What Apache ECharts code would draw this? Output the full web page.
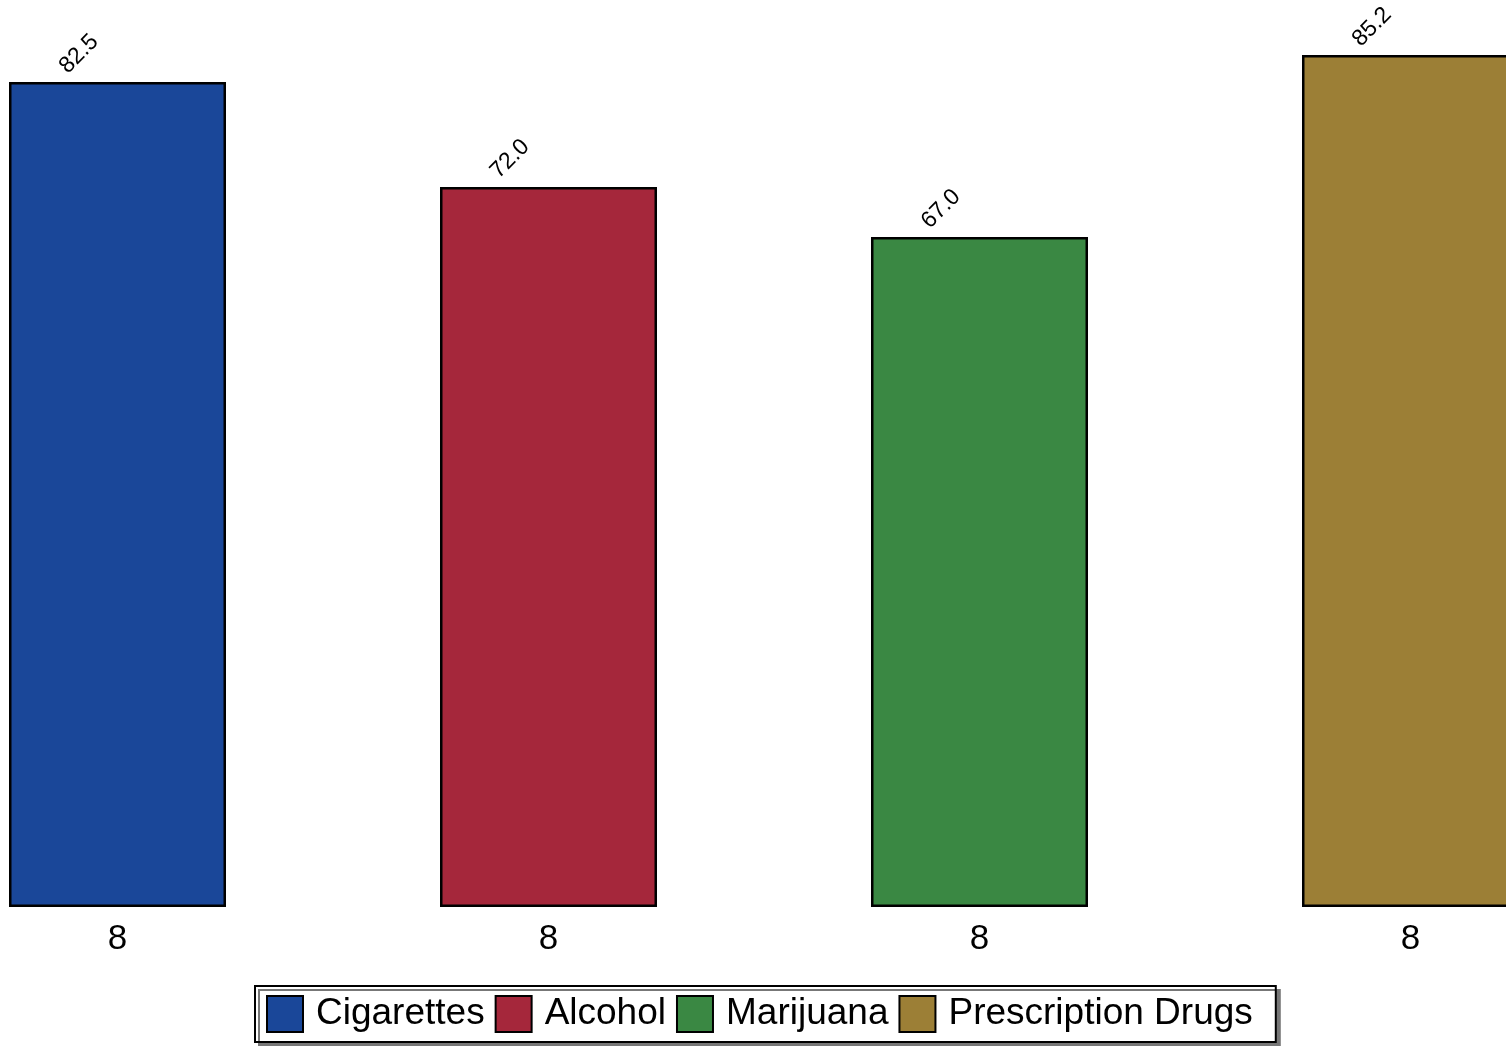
<!DOCTYPE html>
<html>
<head>
<meta charset="utf-8">
<script src="https://cdn.jsdelivr.net/npm/echarts@6/dist/echarts.min.js"></script>
<style>
html,body{margin:0;padding:0;background:#fff;overflow:hidden;width:1506px;height:1046px;}
#chart{width:1724px;height:1046px;margin-left:-98px;}
</style>
</head>
<body>
<div id="chart"></div>
<script>
const categories = ['8', '8', '8', '8'];
const seriesNames = ['Cigarettes', 'Alcohol', 'Marijuana', 'Prescription Drugs'];
const values = [82.5, 72.0, 67.0, 85.2];
const colors = ['#1a4799', '#a5273b', '#3a8843', '#9c7f36'];

const chart = echarts.init(document.getElementById('chart'), null, {renderer: 'canvas'});

const series = seriesNames.map((name, i) => ({
  name: name,
  type: 'bar',
  stack: 'all',
  barWidth: 217,
  data: categories.map((c, j) => (j === i ? values[i] : '-')),
  itemStyle: { color: colors[i], borderColor: '#000', borderWidth: 2.5 },
  label: {
    show: true,
    position: [70, -28],
    rotate: 45,
    align: 'center',
    verticalAlign: 'middle',
    fontFamily: 'Liberation Sans',
    fontSize: 23,
    color: '#000',
    formatter: p => Number(p.value).toFixed(1)
  }
}));

chart.setOption({
  animation: false,
  backgroundColor: '#fff',
  grid: { left: 0, right: 0, top: 7, bottom: 139, containLabel: false },
  xAxis: {
    type: 'category',
    data: categories,
    axisLine: { show: false },
    axisTick: { show: false },
    axisLabel: { fontFamily: 'Liberation Sans', fontSize: 35, color: '#000', margin: 15 }
  },
  yAxis: { type: 'value', min: 0, max: 90, show: false, splitLine: { show: false } },
  legend: {
    bottom: 4,
    left: 353,
    data: seriesNames,
    icon: 'rect',
    itemWidth: 36,
    itemHeight: 36,
    itemGap: 10,
    padding: [9, 23, 9, 11],
    backgroundColor: '#fff',
    borderColor: '#000',
    borderWidth: 2,
    borderRadius: 0,
    shadowColor: '#777',
    shadowBlur: 0,
    shadowOffsetX: 4,
    shadowOffsetY: 4,
    textStyle: { fontFamily: 'Liberation Sans', fontSize: 37, color: '#000', padding: [0, 0, 0, 8] }
  },
  series: series
});
</script>
</body>
</html>
